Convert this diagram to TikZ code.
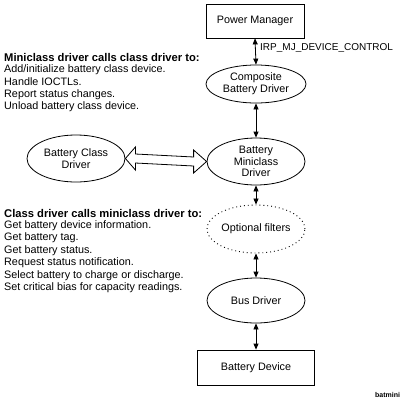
\documentclass[tikz,border=0pt]{standalone}
\usepackage{fontspec}
\setmainfont{Liberation Sans}
\usetikzlibrary{arrows.meta,shapes.geometric}
\begin{document}
\begin{tikzpicture}[x=1pt,y=-1pt,
  every node/.style={font=\fontsize{10.8}{11.8}\selectfont, inner sep=0pt},
  boxnode/.style={draw, line width=0.8pt, minimum width=98pt, minimum height=34pt, align=center},
  ellnode/.style={draw, ellipse, line width=0.8pt, minimum width=98pt, minimum height=46pt, align=center},
  dotell/.style={draw, ellipse, dash pattern=on 0.9pt off 3pt, line width=0.9pt, minimum width=98pt, minimum height=48pt, align=center},
  link/.style={line width=0.8pt, {Triangle[length=6pt,width=5pt]}-{Triangle[length=6pt,width=5pt]}, shorten <=0pt, shorten >=0pt},
  txt/.style={anchor=west, align=left},
  ttl/.style={anchor=west, font=\fontsize{11.2}{12}\selectfont\bfseries}
]
\useasboundingbox (0,0) rectangle (409,402);
\node[boxnode] (pm) at (255,21) {Power Manager};
\node[ellnode, minimum height=38pt, minimum width=100pt] (comp) at (256,84) {Composite\\Battery Driver};
\node[ellnode, minimum height=47pt] (mini) at (256,161.5) {Battery\\Miniclass\\Driver};
\node[ellnode, minimum height=47pt] (cls) at (76,158.5) {Battery Class\\Driver};
\node[dotell] (filt) at (256,229) {Optional filters};
\node[ellnode, minimum height=45pt] (bus) at (256,300.5) {Bus Driver};
\node[boxnode, minimum width=117pt, minimum height=35pt] (dev) at (256,367.5) {Battery Device};

\draw[link] (pm.south) -- (comp.north);
\draw[link] (comp.south) -- (mini.north);
\draw[link] (mini.south) -- (filt.north);
\draw[link] (filt.south) -- (bus.north);
\draw[link] (bus.south) -- (dev.north);

\node[anchor=west, font=\fontsize{10}{11}\selectfont] (irp) at (260,48) {IRP\_MJ\_DEVICE\_CONTROL};

% hollow double arrow
\coordinate (hl) at (cls.east);
\coordinate (hr) at (mini.west);
\draw[line width=0.8pt, fill=white]
  (hl) -- ([shift={(10,-11.5)}]hl) -- ([shift={(10,-4.5)}]hl)
  -- ([shift={(-13,-4.5)}]hr) -- ([shift={(-13,-11.5)}]hr) -- (hr)
  -- ([shift={(-13,11.5)}]hr) -- ([shift={(-13,4.5)}]hr)
  -- ([shift={(10,4.5)}]hl) -- ([shift={(10,11.5)}]hl) -- cycle;

\node[ttl] (t1) at (4,57) {Miniclass driver calls class driver to:};
\node[txt] (a1) at (4,69.5) {Add/initialize battery class device.};
\node[txt] (a2) at (4,82) {Handle IOCTLs.};
\node[txt] (a3) at (4,94.5) {Report status changes.};
\node[txt] (a4) at (4,107) {Unload battery class device.};

\node[ttl] (t2) at (4,213) {Class driver calls miniclass driver to:};
\node[txt] (b1) at (4,225.5) {Get battery device information.};
\node[txt] (b2) at (4,238) {Get battery tag.};
\node[txt] (b3) at (4,250.5) {Get battery status.};
\node[txt] (b4) at (4,263) {Request status notification.};
\node[txt] (b5) at (4,275.5) {Select battery to charge or discharge.};
\node[txt] (b6) at (4,288) {Set critical bias for capacity readings.};

\node[anchor=west, font=\fontsize{7}{8}\selectfont\bfseries] (bm) at (375,395) {batmini};
\end{tikzpicture}
\end{document}
